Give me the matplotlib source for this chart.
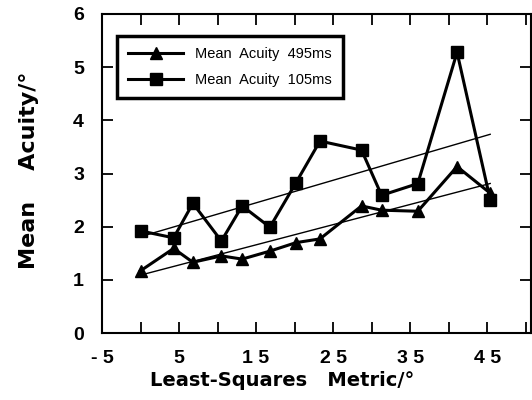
import matplotlib
matplotlib.use("Agg")
import matplotlib.pyplot as plt
import numpy as np

plt.rcParams['font.family'] = ['Liberation Sans', 'DejaVu Sans']

# metric values (deg) shared by both series
metric = [0, 4.3, 6.8, 10.5, 13.2, 16.8, 20.2, 23.3, 28.7, 31.3, 36.0, 41.1, 45.4]
acuity_495 = [1.17, 1.59, 1.33, 1.45, 1.39, 1.54, 1.70, 1.77, 2.39, 2.31, 2.29, 3.13, 2.63]
acuity_105 = [1.92, 1.79, 2.44, 1.73, 2.39, 1.99, 2.83, 3.61, 3.44, 2.59, 2.81, 5.28, 2.51]

xtick_labels = ['- 5', '5', '1 5', '2 5', '3 5', '4 5']

fig = plt.figure(figsize=(5.32, 4.0), dpi=100)
ax = fig.add_axes([102 / 532, 67 / 400, 429 / 532, 319 / 400])

ax.plot(metric, acuity_495, color='black', lw=2.2, marker='^', ms=8,
        label='Mean  Acuity  495ms')
ax.plot(metric, acuity_105, color='black', lw=2.2, marker='s', ms=8,
        label='Mean  Acuity  105ms')

# least-squares fits
xs = np.array([metric[0], metric[-1]])
for ys in (acuity_495, acuity_105):
    k, b = np.polyfit(metric, ys, 1)
    ax.plot(xs, k * xs + b, color='black', lw=1.0)

ax.set_xlim(-5, 50.7)
ax.set_ylim(0, 6)
ax.set_xticks(np.arange(-5, 46, 10))
ax.set_xticklabels(xtick_labels)
ax.set_xticks(np.arange(0, 51, 10), minor=True)
ax.set_yticks(range(0, 7))

ax.tick_params(which='both', direction='in', length=8, width=1.3,
               top=True, right=True, labelsize=14)
ax.tick_params(axis='x', pad=12)
ax.tick_params(axis='y', pad=13)
for lab in ax.get_xticklabels() + ax.get_yticklabels():
    lab.set_fontweight('bold')
for s in ax.spines.values():
    s.set_linewidth(1.5)

ax.set_xlabel('Least-Squares   Metric/°', fontsize=14, fontweight='bold',
              family='DejaVu Sans')
ax.xaxis.set_label_coords((282 - 102) / 429, -0.12)
ax.set_ylabel('Mean    Acuity/°', fontsize=16, fontweight='bold',
              family='DejaVu Sans')
ax.yaxis.set_label_coords(-0.148, 0.51)

leg = ax.legend(loc='upper left', bbox_to_anchor=(0.035, 0.931),
                fontsize=10.5, handlelength=3.8, borderaxespad=0,
                fancybox=False, framealpha=1, edgecolor='black',
                borderpad=0.75, labelspacing=0.85)
leg.get_frame().set_linewidth(2.5)

fig.savefig('out.png', dpi=100)
